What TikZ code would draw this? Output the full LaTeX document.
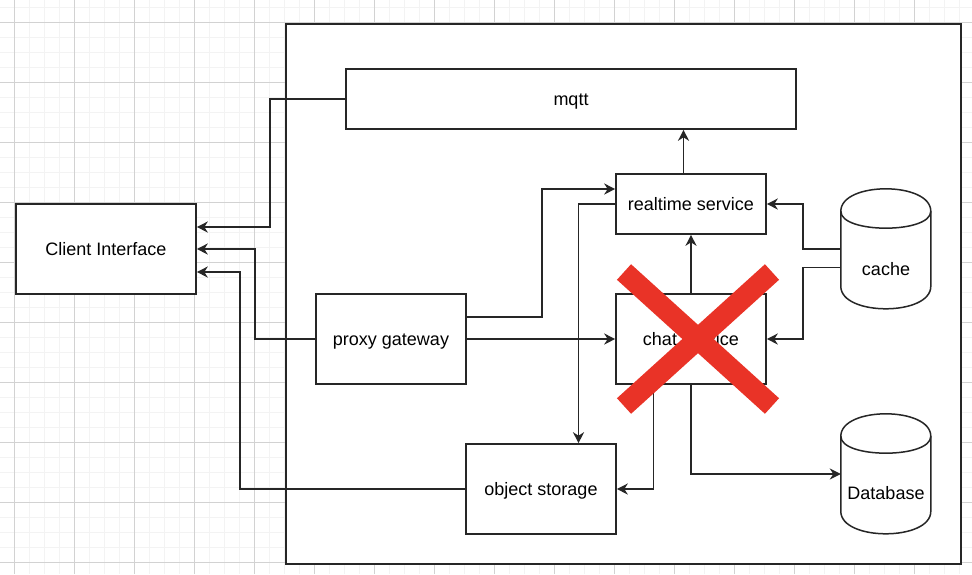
\documentclass[tikz,border=0pt]{standalone}
\usepackage{fontspec}
\setmainfont{Liberation Sans}
\usetikzlibrary{arrows.meta,calc}
\definecolor{xred}{RGB}{233,51,39}
\definecolor{gridminor}{RGB}{243,243,243}
\definecolor{gridmajor}{RGB}{210,210,210}
\definecolor{ink}{RGB}{38,38,38}
\newcommand{\storeshape}[1]{%
  \draw[draw=ink,line width=1.5pt,fill=white] (#1.north west) ++(0,22.5)
    .. controls +(0,-30) and +(0,-30) .. ++(90,0) -- ++(0,75)
    .. controls +(0,30) and +(0,30) .. ++(-90,0) -- cycle;
  \draw[draw=ink,line width=1.5pt] (#1.north west) ++(0,22.5)
    .. controls +(0,22.5) and +(0,22.5) .. ++(90,0);}

\begin{document}
\begin{tikzpicture}[x=1pt,y=-1pt,
    box/.style={draw=ink,line width=1.6pt,fill=white,inner sep=0pt,
      text height=12pt,text depth=0pt,font=\fontsize{18}{21}\selectfont},
    conn/.style={draw=ink,line width=1.7pt,
      -{Stealth[length=11pt,width=11pt,inset=3.5pt]}},
    store/.style={inner sep=0pt,minimum width=90pt,minimum height=120pt,
      font=\fontsize{18}{21}\selectfont}
  ]
  \clip (0,0) rectangle (972,574);
  \foreach \x in {-0.7,14.3,...,975} \draw[gridminor,line width=1.5pt] (\x,0) -- (\x,574);
  \foreach \y in {7.3,22.3,...,580} \draw[gridminor,line width=1.5pt] (0,\y) -- (972,\y);
  \foreach \x in {14.3,74.3,...,975} \draw[gridmajor,line width=1pt] (\x,0) -- (\x,574);
  \foreach \y in {22.3,82.3,...,580} \draw[gridmajor,line width=1pt] (0,\y) -- (972,\y);

  \node[box,line width=2pt,minimum width=675pt,minimum height=540pt] (backend) at (623.5,294) {};
  \node[box,minimum width=180pt,minimum height=90pt] (client) at (106,249) {Client Interface};
  \node[box,minimum width=450pt,minimum height=60pt] (mqtt) at (571,99) {mqtt};
  \node[box,minimum width=150pt,minimum height=60pt] (realtime) at (691,204) {realtime service};
  \node[box,minimum width=150pt,minimum height=90pt] (proxy) at (391,339) {proxy gateway};
  \node[box,minimum width=150pt,minimum height=90pt] (chat) at (691,339) {chat service};
  \node[box,minimum width=150pt,minimum height=90pt] (objstore) at (541,489) {object storage};
  \node[store] (cache) at (886,249) {};
  \node[store] (db) at (886,474) {};
  \storeshape{cache}
  \storeshape{db}
  \node[store,minimum height=0pt] (cachetxt) at ($(cache)+(0,20)$) {cache};
  \node[store,minimum height=0pt] (dbtxt) at ($(db)+(0,19)$) {Database};

  \draw[conn] (mqtt.west) -- ++(-75,0) |- ($(client.east)+(0,-22)$);
  \draw[conn] (proxy.west) -- ++(-60,0) |- (client.east);
  \draw[conn] (objstore.west) -- ++(-225,0) |- ($(client.east)+(0,23)$);
  \draw[conn] ($(proxy.east)+(0,-22)$) -- ++(75,0) |- ($(realtime.west)+(0,-15)$);
  \draw[conn] (proxy.east) -- (chat.west);
  \draw[conn] (realtime.west) -| ($(objstore.north)+(37.5,0)$);
  \draw[conn] (chat.north) -- (realtime.south);
  \draw[conn] ($(realtime.north)+(-7.5,0)$) -- ($(mqtt.south)+(112.5,0)$);
  \draw[conn] ($(chat.south)+(-37.5,0)$) |- (objstore.east);
  \draw[conn] (chat.south) |- (db.west);
  \draw[conn] (cache.west) -- ++(-37.5,0) |- (realtime.east);
  \draw[conn] ($(cache.west)+(0,18.5)$) -- ++(-37.5,0) |- (chat.east);

  \draw[xred,line width=21pt] (624,272) -- (772,406);
  \draw[xred,line width=21pt] (772,272) -- (624,406);
\end{tikzpicture}
\end{document}
